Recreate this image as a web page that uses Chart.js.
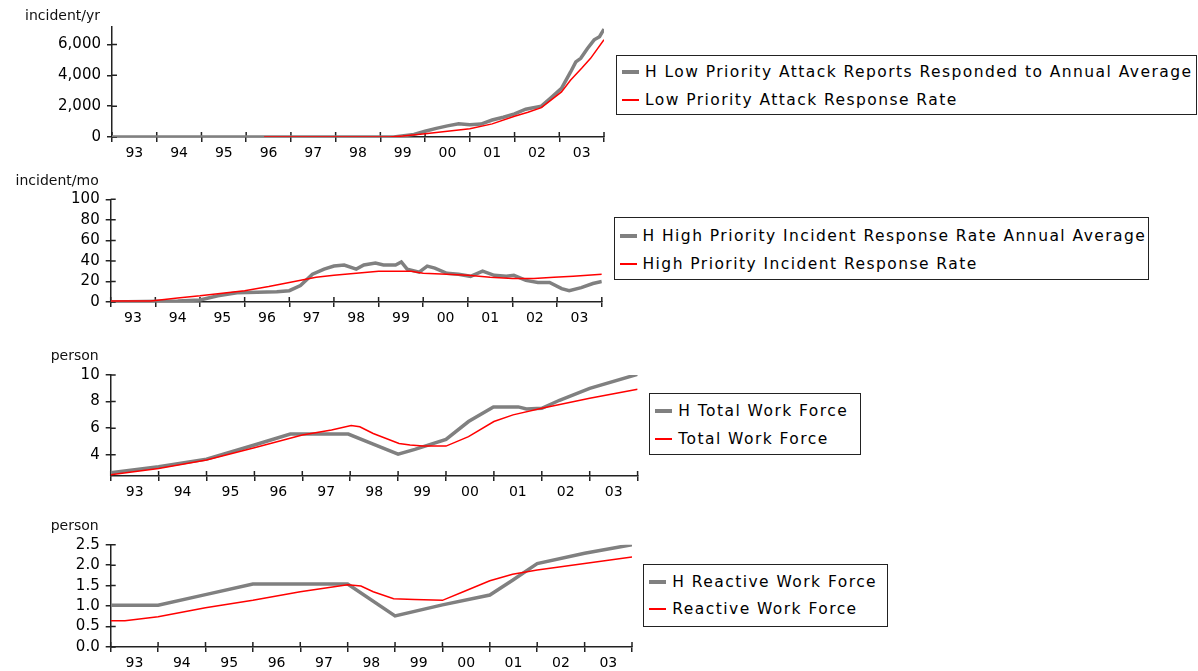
<!DOCTYPE html>
<html>
<head>
<meta charset="utf-8">
<script src="https://cdn.jsdelivr.net/npm/chart.js@4.4.1/dist/chart.umd.min.js"></script>
<style>
    body {
        margin: 0;
        width: 1198px;
        height: 671px;
        position: relative;
        overflow: hidden;
        background: #fff;
        font-family: "DejaVu Sans", Verdana, sans-serif;
    }
    canvas {
        position: absolute;
        left: 0;
    }
    .legend {
        position: absolute;
        box-sizing: border-box;
        border: 1.5px solid #222;
        background: #fff;
        color: #000;
        font-size: 15.5px;
        letter-spacing: 1.45px;
        padding-left: 5px;
    }
    .legend .row {
        display: flex;
        align-items: center;
        height: 27.6px;
        white-space: nowrap;
    }
    .legend .sw {
        display: inline-block;
        width: 17px;
        margin-right: 6px;
        flex: none;
    }
</style>
</head>
<body>
<canvas id="c1"></canvas>
<canvas id="c2"></canvas>
<canvas id="c3"></canvas>
<canvas id="c4"></canvas>

<script>
    const GRAY = '#808080';
    const RED = '#ff0000';

    const yearTicks = [1993, 1994, 1995, 1996, 1997, 1998, 1999, 2000, 2001, 2002, 2003, 2004];
    const yearLabels = ['93', '94', '95', '96', '97', '98', '99', '00', '01', '02', '03'];

    // low priority attacks (incident/yr)
    const lowNames = ['H Low Priority Attack Reports Responded to Annual Average', 'Low Priority Attack Response Rate'];
    const lowHistT = [1993, 1999.3, 1999.75, 2000, 2000.25, 2000.5, 2000.75, 2001, 2001.25, 2001.5, 2001.75, 2002, 2002.25, 2002.6, 2002.8, 2003.05, 2003.25, 2003.37, 2003.48, 2003.63, 2003.78, 2003.9, 2004];
    const lowHistV = [0, 0, 170, 370, 560, 720, 860, 790, 840, 1100, 1280, 1500, 1800, 2000, 2500, 3150, 4200, 4870, 5100, 5740, 6300, 6500, 7000];
    const lowRateT = [1996.4, 1999.2, 1999.5, 2000, 2000.5, 2001, 2001.5, 2002, 2002.3, 2002.6, 2003.05, 2003.25, 2003.5, 2003.7, 2004];
    const lowRateV = [0, 0, 60, 215, 380, 540, 850, 1350, 1600, 1900, 2920, 3680, 4450, 5100, 6300];
    const lowTicks = [0, 2000, 4000, 6000];

    // high priority incidents (incident/mo)
    const highNames = ['H High Priority Incident Response Rate Annual Average', 'High Priority Incident Response Rate'];
    const highHistT = [1993, 1994.5, 1995, 1995.4, 1995.83, 1996.28, 1996.72, 1997, 1997.25, 1997.52, 1997.78, 1998, 1998.23, 1998.5, 1998.67, 1998.93, 1999.11, 1999.38, 1999.51, 1999.64, 1999.91, 2000.09, 2000.26, 2000.53, 2000.79, 2001.06, 2001.33, 2001.59, 2001.86, 2002.03, 2002.3, 2002.57, 2002.83, 2003.1, 2003.27, 2003.54, 2003.8, 2004];
    const highHistV = [0, 1, 2, 6, 9, 9.5, 10, 11, 16, 27, 32, 35, 36, 32, 36, 38, 36, 36, 39, 32, 29, 35, 33, 28, 27, 25, 30, 26, 25, 26, 21, 19, 19, 13, 11, 14, 18, 20];
    const highRateT = [1993, 1993.9, 1994.5, 1995, 1995.4, 1996, 1996.54, 1997, 1997.6, 1998, 1998.5, 1999, 1999.73, 2000, 2000.53, 2001, 2001.5, 2002, 2002.48, 2002.93, 2003.36, 2004];
    const highRateV = [1, 1, 4, 6, 8, 11, 15, 19, 24, 26, 28, 30, 30, 28, 27, 26, 24, 23, 23, 24, 25, 27];
    const highTicks = [0, 20, 40, 60, 80, 100];

    // total work force (person)
    const totalNames = ['H Total Work Force', 'Total Work Force'];
    const totalHistT = [1993, 1994, 1995, 1996, 1996.75, 1997.96, 1998.48, 1999, 1999.35, 2000, 2000.47, 2000.99, 2001.51, 2001.68, 2002, 2002.37, 2003, 2004];
    const totalHistV = [2.64, 3.1, 3.67, 4.73, 5.56, 5.56, 4.8, 4.05, 4.4, 5.15, 6.5, 7.6, 7.6, 7.45, 7.5, 8.1, 9.0, 10.05];
    const totalRateT = [1993, 1994, 1995, 1996, 1997, 1997.61, 1998.02, 1998.2, 1998.48, 1999.02, 1999.25, 1999.52, 2000, 2000.47, 2001, 2001.4, 2002, 2003, 2004];
    const totalRateV = [2.5, 2.97, 3.6, 4.53, 5.48, 5.86, 6.2, 6.1, 5.6, 4.85, 4.73, 4.65, 4.65, 5.36, 6.5, 7.0, 7.5, 8.25, 8.92];
    const totalTicks = [4, 6, 8, 10];

    // reactive work force (person)
    const reactNames = ['H Reactive Work Force', 'Reactive Work Force'];
    const reactHistT = [1993, 1994, 1995, 1996, 1998, 1999, 2000, 2001, 2001.48, 2002, 2003, 2004];
    const reactHistV = [1.02, 1.02, 1.28, 1.54, 1.54, 0.76, 1.03, 1.27, 1.63, 2.04, 2.29, 2.5];
    const reactRateT = [1993, 1993.3, 1994, 1995, 1996, 1997, 1998, 1998.28, 1998.54, 1998.97, 1999.41, 2000, 2000.44, 2001, 2001.48, 2002, 2003, 2004];
    const reactRateV = [0.64, 0.64, 0.74, 0.96, 1.14, 1.35, 1.52, 1.49, 1.35, 1.18, 1.16, 1.14, 1.35, 1.62, 1.78, 1.88, 2.04, 2.2];
    const reactTicks = [0, 0.5, 1.0, 1.5, 2.0, 2.5];

    Chart.defaults.font.family = '"DejaVu Sans", Verdana, sans-serif';
    Chart.defaults.font.size = 14;
    Chart.defaults.color = '#000';

    const panels = [
        {
            id: 'c1', top: 0, areaTop: 26.7, areaBottom: 137, left: 112, right: 604,
            unit: 'incident/yr', unitY: 16.7, names: lowNames,
            hist: [lowHistT, lowHistV], rate: [lowRateT, lowRateV],
            min: 0, max: 7150, ticks: lowTicks, fmt: v => v.toLocaleString('en-US'),
            legend: {left: 616, top: 54.7, width: 581, height: 60.5, pad: 2.5}
        },
        {
            id: 'c2', top: 172, areaTop: 199.3, areaBottom: 301.3, left: 110.7, right: 601.8,
            unit: 'incident/mo', unitY: 181, names: highNames,
            hist: [highHistT, highHistV], rate: [highRateT, highRateV],
            min: 0, max: 100, ticks: highTicks, fmt: v => String(v),
            legend: {left: 613.5, top: 216.7, width: 535, height: 63.5, pad: 5}
        },
        {
            id: 'c3', top: 342, areaTop: 375, areaBottom: 476, left: 110.7, right: 637.6,
            unit: 'person', unitY: 356.7, names: totalNames,
            hist: [totalHistT, totalHistV], rate: [totalRateT, totalRateV],
            min: 2.4, max: 10, ticks: totalTicks, fmt: v => String(v),
            legend: {left: 649.3, top: 393.3, width: 212, height: 62, pad: 3}
        },
        {
            id: 'c4', top: 508, areaTop: 544.7, areaBottom: 646.7, left: 110.7, right: 632,
            unit: 'person', unitY: 526.7, names: reactNames,
            hist: [reactHistT, reactHistV], rate: [reactRateT, reactRateV],
            min: 0, max: 2.5, ticks: reactTicks, fmt: v => v.toFixed(1),
            legend: {left: 643.3, top: 564.3, width: 245, height: 62.4, pad: 2.5}
        }
    ];

    // inner half of the tick marks + unit label above the y axis
    const axisDecor = {
        id: 'axisDecor',
        beforeDatasetsDraw(chart, args, opts) {
            const {ctx, chartArea, scales: {x, y}} = chart;
            ctx.save();
            ctx.strokeStyle = '#222';
            ctx.lineWidth = 1.5;
            ctx.beginPath();
            x.ticks.forEach(t => {
                const px = x.getPixelForValue(t.value);
                ctx.moveTo(px, chartArea.bottom);
                ctx.lineTo(px, chartArea.bottom - 5);
            });
            y.ticks.forEach(t => {
                const py = y.getPixelForValue(t.value);
                ctx.moveTo(chartArea.left, py);
                ctx.lineTo(chartArea.left + 5, py);
            });
            ctx.stroke();
            ctx.fillStyle = '#111';
            ctx.font = '14px "DejaVu Sans", Verdana, sans-serif';
            ctx.textAlign = 'right';
            ctx.textBaseline = 'middle';
            ctx.fillText(opts.text, chartArea.left - 12, opts.y);
            ctx.restore();
        }
    };

    const toPoints = (t, v) => t.map((x, i) => ({x: x, y: v[i]}));

    function makeLegend(p) {
        const L = p.legend;
        const box = document.createElement('div');
        box.className = 'legend';
        box.style.left = L.left + 'px';
        box.style.top = L.top + 'px';
        box.style.width = L.width + 'px';
        box.style.height = L.height + 'px';
        box.style.paddingTop = L.pad + 'px';
        p.names.forEach((name, i) => {
            const row = document.createElement('div');
            row.className = 'row';
            const sw = document.createElement('span');
            sw.className = 'sw';
            sw.style.height = (i === 0 ? 4 : 2) + 'px';
            sw.style.background = i === 0 ? GRAY : RED;
            row.appendChild(sw);
            row.appendChild(document.createTextNode(name));
            box.appendChild(row);
        });
        document.body.appendChild(box);
    }

    panels.forEach(p => {
        const canvas = document.getElementById(p.id);
        const w = Math.ceil(p.right + 4);
        const h = Math.ceil(p.areaBottom - p.top + 26);
        canvas.width = w;
        canvas.height = h;
        canvas.style.width = w + 'px';
        canvas.style.height = h + 'px';
        canvas.style.top = p.top + 'px';

        new Chart(canvas, {
            type: 'line',
            data: {
                datasets: [
                    {
                        label: p.names[0],
                        data: toPoints(p.hist[0], p.hist[1]),
                        borderColor: GRAY,
                        borderWidth: 3.5,
                        pointRadius: 0,
                        tension: 0,
                        order: 1
                    },
                    {
                        label: p.names[1],
                        data: toPoints(p.rate[0], p.rate[1]),
                        borderColor: RED,
                        borderWidth: 1.5,
                        pointRadius: 0,
                        tension: 0,
                        order: 0
                    }
                ]
            },
            options: {
                responsive: false,
                animation: false,
                events: [],
                layout: {
                    padding: {top: p.areaTop - p.top, right: w - p.right, left: 0, bottom: 0}
                },
                plugins: {
                    legend: {display: false},
                    tooltip: {enabled: false},
                    axisDecor: {text: p.unit, y: p.unitY - p.top}
                },
                scales: {
                    x: {
                        type: 'linear',
                        min: 1993,
                        max: 2004,
                        afterBuildTicks: s => {
                            s.ticks = yearTicks.map(v => ({value: v}));
                        },
                        afterFit: s => {
                            s.height = 26;
                        },
                        ticks: {
                            autoSkip: false,
                            maxRotation: 0,
                            padding: 3,
                            labelOffset: (p.right - p.left) / 22,
                            callback: (v, i) => yearLabels[i] || ''
                        },
                        grid: {drawOnChartArea: false, color: '#222', lineWidth: 1.5, tickLength: 5},
                        border: {color: '#222', width: 1.5}
                    },
                    y: {
                        min: p.min,
                        max: p.max,
                        afterBuildTicks: s => {
                            s.ticks = p.ticks.map(v => ({value: v}));
                        },
                        afterFit: s => {
                            s.width = p.left;
                        },
                        ticks: {
                            autoSkip: false,
                            padding: 6,
                            font: {size: 15},
                            callback: v => p.fmt(v)
                        },
                        grid: {drawOnChartArea: false, color: '#222', lineWidth: 1.5, tickLength: 5},
                        border: {color: '#222', width: 1.5}
                    }
                }
            },
            plugins: [axisDecor]
        });

        makeLegend(p);
    });
</script>
</body>
</html>
